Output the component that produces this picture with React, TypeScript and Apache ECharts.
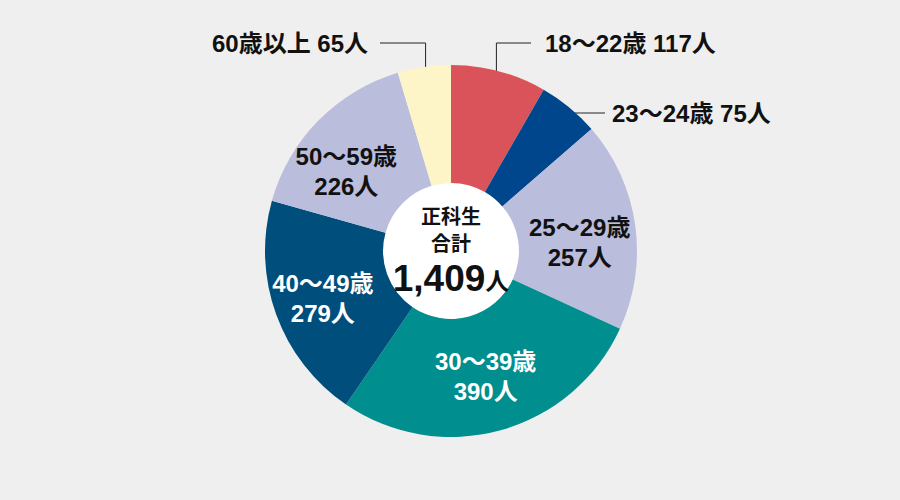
import { useEffect, useRef } from 'react';
import * as echarts from 'echarts';

// 正科生 年齢別人数
const AGE_GROUPS = ['18～22歳', '23～24歳', '25～29歳', '30～39歳', '40～49歳', '50～59歳', '60歳以上'];
const STUDENTS = [117, 75, 257, 390, 279, 226, 65];
const SLICE_COLORS = ['#da535b', '#00468c', '#bbbddc', '#008e8e', '#004e7c', '#bbbddc', '#fdf5c8'];
const LABEL_COLORS = ['#111', '#111', '#111', '#fff', '#fff', '#111', '#111'];
const CENTER_TITLE = ['正科生', '合計'];
const UNIT = '人';

const CENTER = [451, 251];
const RADIUS = [68, 186];
const FONT = "'Liberation Sans', 'Noto Sans CJK JP', sans-serif";

// slices whose label sits outside with a leader line
const OUTSIDE: Record<number, { x: number; y: number; align: 'left' | 'right'; elbow: boolean }> = {
  0: { x: 545, y: 43, align: 'left', elbow: true },
  1: { x: 612, y: 113, align: 'left', elbow: false },
  6: { x: 368, y: 43, align: 'right', elbow: true },
};
// small nudges for the labels drawn inside the ring
const INSIDE_SHIFT: Record<number, [number, number]> = {
  2: [0, 10],
  3: [0, 0],
  4: [-6, 3],
  5: [-12, 12],
};

export default function App() {
  const ref = useRef<HTMLDivElement | null>(null);

  useEffect(() => {
    document.body.style.margin = '0';
    if (!ref.current) return undefined;
    const chart = echarts.init(ref.current, undefined, { renderer: 'svg' });

    const total = STUDENTS.reduce((a, b) => a + b, 0);

    const data = AGE_GROUPS.map((name, i) => {
      const outside = OUTSIDE[i] != null;
      return {
        name,
        value: STUDENTS[i],
        itemStyle: { color: SLICE_COLORS[i] },
        label: outside
          ? { position: 'outside', formatter: `{b} {c}${UNIT}`, color: '#111' }
          : { position: 'inside', formatter: `{b}\n{c}${UNIT}`, color: LABEL_COLORS[i], lineHeight: 30 },
        labelLine: { show: outside },
      };
    });

    const centerText = (text: string, y: number) => ({
      type: 'text',
      z: 100,
      x: CENTER[0],
      y,
      style: {
        text,
        align: 'center',
        verticalAlign: 'middle',
        fontSize: 20,
        fontWeight: 'bold',
        fontFamily: FONT,
        fill: '#111',
      },
    });

    chart.setOption({
      animation: false,
      backgroundColor: '#efefef',
      graphic: [
        centerText(CENTER_TITLE[0], 217),
        centerText(CENTER_TITLE[1], 244),
        {
          type: 'text',
          z: 100,
          x: CENTER[0],
          y: 278,
          style: {
            text: `{n|${total.toLocaleString('en-US')}}{u|${UNIT}}`,
            align: 'center',
            verticalAlign: 'middle',
            fill: '#111',
            rich: {
              n: { fontSize: 37, fontWeight: 'bold', fontFamily: FONT, fill: '#111' },
              u: { fontSize: 24, fontWeight: 'bold', fontFamily: FONT, fill: '#111', padding: [6, 0, 0, 0] },
            },
          },
        },
      ],
      series: [
        {
          // white disc in the hole
          type: 'pie',
          center: CENTER,
          radius: [0, RADIUS[0]],
          silent: true,
          label: { show: false },
          labelLine: { show: false },
          itemStyle: { color: '#ffffff' },
          data: [{ name: 'total', value: total }],
        },
        {
          type: 'pie',
          center: CENTER,
          radius: RADIUS,
          startAngle: 90,
          clockwise: true,
          avoidLabelOverlap: false,
          silent: true,
          label: {
            fontSize: 24,
            fontWeight: 'bold',
            fontFamily: FONT,
          },
          labelLine: {
            show: true,
            length: 10,
            length2: 10,
            smooth: false,
            lineStyle: { color: '#222', width: 1 },
          },
          labelLayout: (params: any) => {
            const i = params.dataIndex;
            const out = OUTSIDE[i];
            if (!out) {
              const s = INSIDE_SHIFT[i] || [0, 0];
              return { dx: s[0], dy: s[1] };
            }
            const p0 = params.labelLinePoints ? params.labelLinePoints[0] : [CENTER[0], CENTER[1] - RADIUS[1]];
            const vx = CENTER[0] - p0[0];
            const vy = CENTER[1] - p0[1];
            const len = Math.sqrt(vx * vx + vy * vy) || 1;
            const sx = p0[0] + (vx / len) * 10;
            const sy = p0[1] + (vy / len) * 10;
            const endX = out.align === 'left' ? out.x - 14 : out.x + 12;
            const points = out.elbow
              ? [[sx, sy], [sx, out.y], [endX, out.y]]
              : [[sx, out.y], [(sx + endX) / 2, out.y], [out.x - 7, out.y]];
            return {
              x: out.x,
              y: out.y,
              align: out.align,
              verticalAlign: 'middle',
              labelLinePoints: points,
            };
          },
          itemStyle: { borderWidth: 0 },
          data,
        },
      ],
    });

    return () => {
      chart.dispose();
    };
  }, []);

  return <div ref={ref} style={{ width: 900, height: 500, background: '#efefef' }} />;
}
